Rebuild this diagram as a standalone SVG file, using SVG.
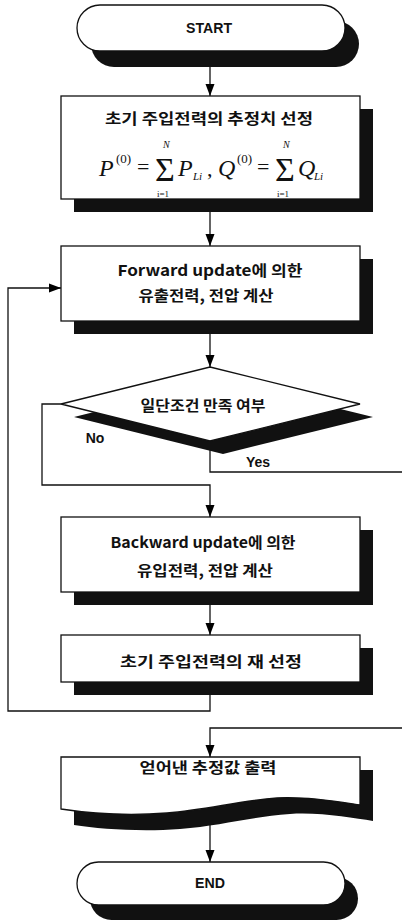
<svg xmlns="http://www.w3.org/2000/svg" width="402" height="924" viewBox="0 0 402 924">
<defs>
<marker id="ah" markerWidth="12" markerHeight="16" refX="16" refY="6" viewBox="0 0 16 12" markerUnits="userSpaceOnUse" orient="auto">
<path d="M0,0 L16,6 L0,12 Z" fill="#000"/>
</marker>
</defs>
<style>
.node{fill:#fff;stroke:#111;stroke-width:1.3}
.sh{fill:#111}
.ln{fill:none;stroke:#111;stroke-width:1.3}
.kt{font-family:"Noto Sans CJK KR","Liberation Sans",sans-serif;font-weight:bold;font-size:15px;fill:#111;text-anchor:middle}
.lt{font-family:"Liberation Sans","Noto Sans CJK KR",sans-serif;font-weight:bold;font-size:14px;fill:#111;text-anchor:middle}
.m{font-family:"Liberation Serif",serif;font-style:italic;fill:#111}
.r{font-style:normal}
</style>
<rect width="402" height="924" fill="#fff"/>
<g id="connectors">
<line class="ln" x1="210" y1="52" x2="210" y2="96" marker-end="url(#ah)"/>
<line class="ln" x1="210" y1="199" x2="210" y2="246" marker-end="url(#ah)"/>
<line class="ln" x1="210" y1="321" x2="210" y2="367" marker-end="url(#ah)"/>
<polyline class="ln" points="61,404 42,404 42,485 210,485 210,517" marker-end="url(#ah)"/>
<polyline class="ln" points="210,441 210,472 402,472"/>
<line class="ln" x1="210" y1="592" x2="210" y2="635" marker-end="url(#ah)"/>
<polyline class="ln" points="210,682 210,711 8,711 8,288 61,288" marker-end="url(#ah)"/>
<polyline class="ln" points="402,728 210,728 210,757" marker-end="url(#ah)"/>
<line class="ln" x1="210" y1="806" x2="210" y2="862" marker-end="url(#ah)"/>
</g>
<g id="start">
<rect class="sh" x="91" y="21" width="268" height="46" rx="23"/>
<rect class="node" x="77" y="5" width="268" height="46" rx="23"/>
<text class="lt" x="209" y="33" textLength="46" lengthAdjust="spacingAndGlyphs">START</text>
</g>
<g id="init">
<rect class="sh" x="74" y="109" width="299" height="103"/>
<rect class="node" x="61" y="96" width="299" height="103"/>
<text class="kt" x="209" y="124" textLength="208" lengthAdjust="spacingAndGlyphs">초기 주입전력의 추정치 선정</text>
<text class="m"><tspan x="99" y="176" font-size="24">P</tspan><tspan class="r" x="116" y="163" font-size="13">(0)</tspan><tspan class="r" x="137" y="174" font-size="22">=</tspan><tspan class="r" x="155" y="181" font-size="34">Σ</tspan><tspan x="163" y="148" font-size="10">N</tspan><tspan class="r" x="157" y="197" font-size="9">i=1</tspan><tspan x="178" y="176" font-size="24">P</tspan><tspan x="193" y="180" font-size="11">Li</tspan><tspan class="r" x="207" y="176" font-size="22">,</tspan><tspan x="218" y="176" font-size="24">Q</tspan><tspan class="r" x="237" y="163" font-size="13">(0)</tspan><tspan class="r" x="257" y="174" font-size="22">=</tspan><tspan class="r" x="275" y="181" font-size="34">Σ</tspan><tspan x="283" y="148" font-size="10">N</tspan><tspan class="r" x="277" y="197" font-size="9">i=1</tspan><tspan x="298" y="176" font-size="24">Q</tspan><tspan x="314" y="180" font-size="11">Li</tspan></text>
</g>
<g id="forward">
<rect class="sh" x="74" y="259" width="299" height="75"/>
<rect class="node" x="61" y="246" width="299" height="75"/>
<text class="kt" x="210" y="276" textLength="185" lengthAdjust="spacingAndGlyphs">Forward update에 의한</text>
<text class="kt" x="206" y="301" textLength="135" lengthAdjust="spacingAndGlyphs">유출전력, 전압 계산</text>
</g>
<g id="decision">
<polygon class="sh" points="223,380 373,417 223,454 74,417"/>
<polygon class="node" points="210,367 360,404 210,441 61,404"/>
<text class="kt" x="203" y="411" textLength="125" lengthAdjust="spacingAndGlyphs">일단조건 만족 여부</text>
<text class="lt" x="95" y="443" font-size="13">No</text>
<text class="lt" x="258" y="467" font-size="13">Yes</text>
</g>
<g id="backward">
<rect class="sh" x="74" y="530" width="299" height="75"/>
<rect class="node" x="61" y="517" width="299" height="75"/>
<text class="kt" x="203" y="548" textLength="185" lengthAdjust="spacingAndGlyphs">Backward update에 의한</text>
<text class="kt" x="205" y="576" textLength="136" lengthAdjust="spacingAndGlyphs">유입전력, 전압 계산</text>
</g>
<g id="reselect">
<rect class="sh" x="74" y="648" width="299" height="47"/>
<rect class="node" x="61" y="635" width="299" height="47"/>
<text class="kt" x="211" y="667" textLength="182" lengthAdjust="spacingAndGlyphs">초기 주입전력의 재 선정</text>
</g>
<g id="output">
<path class="sh" d="M74,770 H373 V821 C353,818 320,812 290,814 C250,817 220,826 180,829 C140,832 100,829 74,825 Z"/>
<path class="node" d="M61,757 H360 V805 C340,802 307,796 277,798 C237,801 207,810 167,813 C127,816 87,813 61,809 Z"/>
<text class="kt" x="208" y="773" textLength="137" lengthAdjust="spacingAndGlyphs">얻어낸 추정값 출력</text>
</g>
<g id="end">
<rect class="sh" x="90" y="877" width="268" height="43" rx="21.5"/>
<rect class="node" x="77" y="862" width="268" height="43" rx="21.5"/>
<text class="lt" x="210" y="888" textLength="30" lengthAdjust="spacingAndGlyphs">END</text>
</g>
</svg>
